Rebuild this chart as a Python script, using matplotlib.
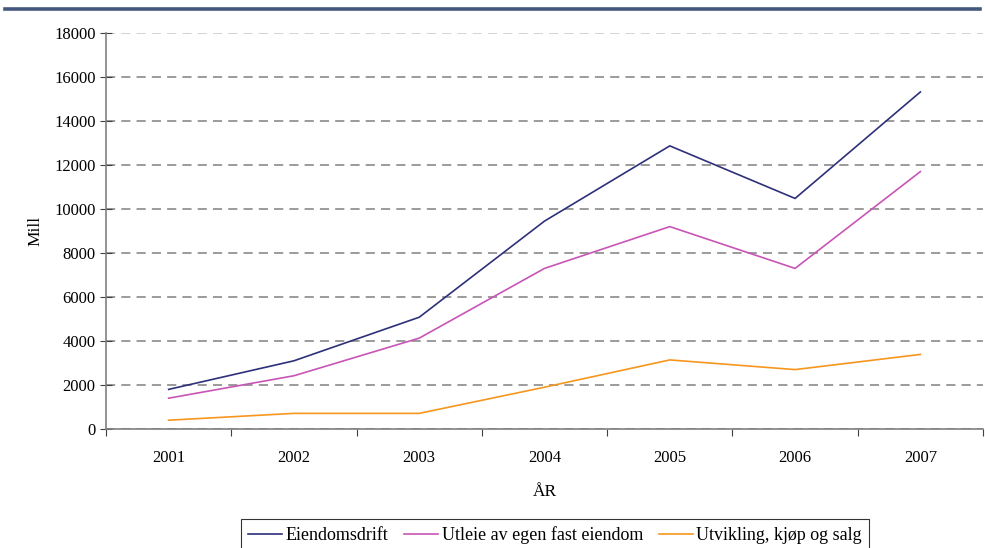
import matplotlib
matplotlib.use('Agg')
import matplotlib.pyplot as plt
import numpy as np

# data: omsetning i mill. kr etter naering
aar = ['2001', '2002', '2003', '2004', '2005', '2006', '2007']
eiendomsdrift = [1800, 3100, 5080, 9450, 12870, 10480, 15320]
utleie = [1400, 2420, 4130, 7300, 9200, 7300, 11700]
utvikling = [400, 710, 710, 1900, 3140, 2700, 3390]
serie_navn = ['Eiendomsdrift', 'Utleie av egen fast eiendom', 'Utvikling, kjøp og salg']
farger = ['#2E3079', '#C855B5', '#F7961E']

plt.rcParams['font.family'] = ['Liberation Serif', 'DejaVu Serif']

fig = plt.figure(figsize=(9.85, 5.48), dpi=100)

# blaa strek oeverst
fig.add_artist(plt.Line2D([0.005, 0.995], [1 - 8.5 / 548, 1 - 8.5 / 548],
                          color='#44587F', linewidth=2.6, transform=fig.transFigure))

ax = fig.add_axes([106 / 985, 1 - 429 / 548, 877 / 985, 396 / 548])

x = np.arange(len(aar))
for verdier, navn, farge in zip([eiendomsdrift, utleie, utvikling], serie_navn, farger):
    ax.plot(x, verdier, color=farge, linewidth=1.2, label=navn)

ax.set_xlim(-0.5, len(aar) - 0.5)
ax.set_ylim(0, 18000)
ax.set_yticks(np.arange(0, 18001, 2000))
ax.yaxis.grid(True, linestyle=(0, (6, 4)), color='#808080', linewidth=1.1)
ax.set_axisbelow(True)
ax.get_ygridlines()[-1].set_color('#C8C8C8')

# kategoriakse: streker mellom aarene, tekst midt i
ax.set_xticks(np.arange(-0.5, len(aar), 1.0))
ax.set_xticklabels([])
ax.set_xticks(x, minor=True)
ax.set_xticklabels(aar, minor=True)
ax.tick_params(axis='x', which='major', direction='out', length=5, color='#404040')
ax.tick_params(axis='x', which='minor', length=0, pad=15, labelsize=12)
ax.tick_params(axis='y', direction='inout', length=9, color='#404040', labelsize=12, pad=3)

for s in ['top', 'right']:
    ax.spines[s].set_visible(False)
for s in ['left', 'bottom']:
    ax.spines[s].set_color('#808080')
    ax.spines[s].set_linewidth(1.2)

ax.set_ylabel('Mill', fontsize=12.5, labelpad=8)
ax.set_xlabel('ÅR', fontsize=12.5, labelpad=13)

leg = fig.legend(loc='upper center', bbox_to_anchor=(555 / 985, 1 - 519 / 548), ncol=3,
                 fontsize=13, frameon=True, fancybox=False, edgecolor='black',
                 handlelength=1.9, handletextpad=0.2, columnspacing=0.85,
                 borderpad=0.4, borderaxespad=0)
leg.get_frame().set_linewidth(0.8)

fig.savefig('out.png', dpi=100)
